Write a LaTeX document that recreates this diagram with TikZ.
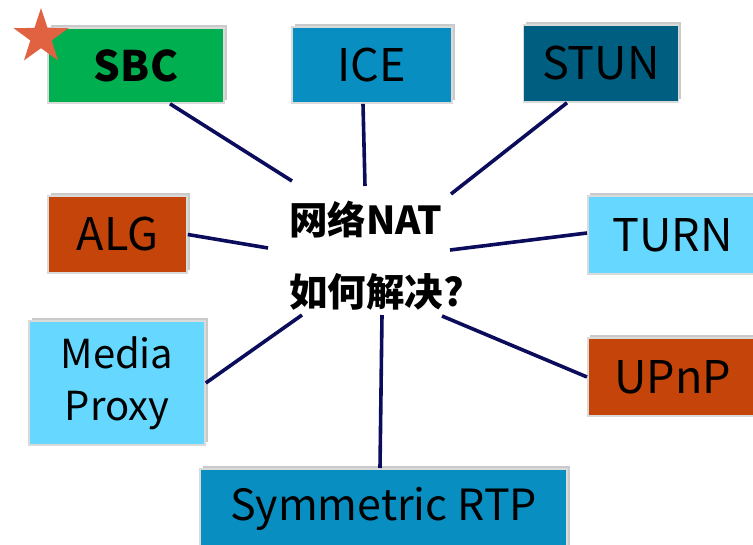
\documentclass[tikz,border=0pt]{standalone}
\usepackage{fontspec}
\newfontfamily\cjk{Noto Sans CJK SC}
\usetikzlibrary{shapes.geometric,shadows,calc}

\definecolor{boxgreen}{RGB}{0,176,80}
\definecolor{boxblue}{RGB}{8,142,192}
\definecolor{boxteal}{RGB}{0,95,128}
\definecolor{boxorange}{RGB}{197,68,10}
\definecolor{boxsky}{RGB}{102,216,255}
\definecolor{edgegray}{RGB}{218,218,218}
\definecolor{linknavy}{RGB}{12,12,92}
\definecolor{starred}{RGB}{224,98,64}

\tikzset{
  topic/.style={draw=edgegray, line width=1.6pt, inner sep=0pt,
    font=\cjk\fontsize{45}{50}\selectfont, text=black,
    drop shadow={shadow xshift=2.5pt, shadow yshift=3pt, opacity=0.35, fill=black!60}},
  smalltopic/.style={topic, font=\cjk\fontsize{40}{52}\selectfont, align=center},
  link/.style={draw=linknavy, line width=3.6pt},
  hub/.style={font=\cjk\bfseries\fontsize{38.5}{72}\selectfont, align=left, inner sep=0pt}
}

\begin{document}
\begin{tikzpicture}[x=1pt,y=-1pt]
\useasboundingbox (0,0) rectangle (753,544);

% solution boxes around the question
\node[topic, fill=boxgreen, minimum width=176pt, minimum height=75pt, font=\cjk\bfseries\fontsize{42}{50}\selectfont] (sbc) at (136,65.5) {SBC};
\node[topic, fill=boxblue, minimum width=160pt, minimum height=76pt] (ice) at (372,65) {ICE};
\node[topic, fill=boxteal, minimum width=155pt, minimum height=77pt] (stun) at (601,63.5) {STUN};
\node[topic, fill=boxorange, minimum width=139pt, minimum height=77pt] (alg) at (117.5,234.5) {ALG};
\node[topic, fill=boxsky, minimum width=170pt, minimum height=78pt, anchor=west] (turn) at (587,235) {TURN};
\node[topic, fill=boxorange, minimum width=170pt, minimum height=78pt, anchor=west] (upnp) at (587,377) {UPnP};
\node[smalltopic, fill=boxsky, minimum width=176pt, minimum height=124pt] (proxy) at (117,383) {Media\\Proxy};
\node[topic, fill=boxblue, minimum width=367pt, minimum height=80pt, anchor=north, font=\cjk\fontsize{43}{50}\selectfont] (rtp) at (383.5,468) {Symmetric RTP};

% central question
\node[hub, anchor=west] (q) at (289,256) {网络NAT\\如何解决?};

% marker star on the SBC box
\node[star, star points=5, star point ratio=2.6, fill=starred, minimum size=58pt, inner sep=0pt] (mark) at (41,37) {};

% free ends of the spokes around the question
\coordinate (hsbc) at (292,181);
\coordinate (hice) at (365,186);
\coordinate (hstun) at (451,194);
\coordinate (halg) at (268,248);
\coordinate (hturn) at (450,250);
\coordinate (hproxy) at (302,315);
\coordinate (hupnp) at (442,316);
\coordinate (hrtp) at (382,315);

\draw[link] ([xshift=34pt]sbc.south) -- (hsbc);
\draw[link] ([xshift=-9pt]ice.south) -- (hice);
\draw[link] ([xshift=-34pt]stun.south) -- (hstun);
\draw[link] (alg.east) -- (halg);
\draw[link] ([yshift=2pt]turn.west) -- (hturn);
\draw[link] (upnp.west) -- (hupnp);
\draw[link] (proxy.east) -- (hproxy);
\draw[link] ([xshift=-3.5pt]rtp.north) -- (hrtp);
\end{tikzpicture}
\end{document}
